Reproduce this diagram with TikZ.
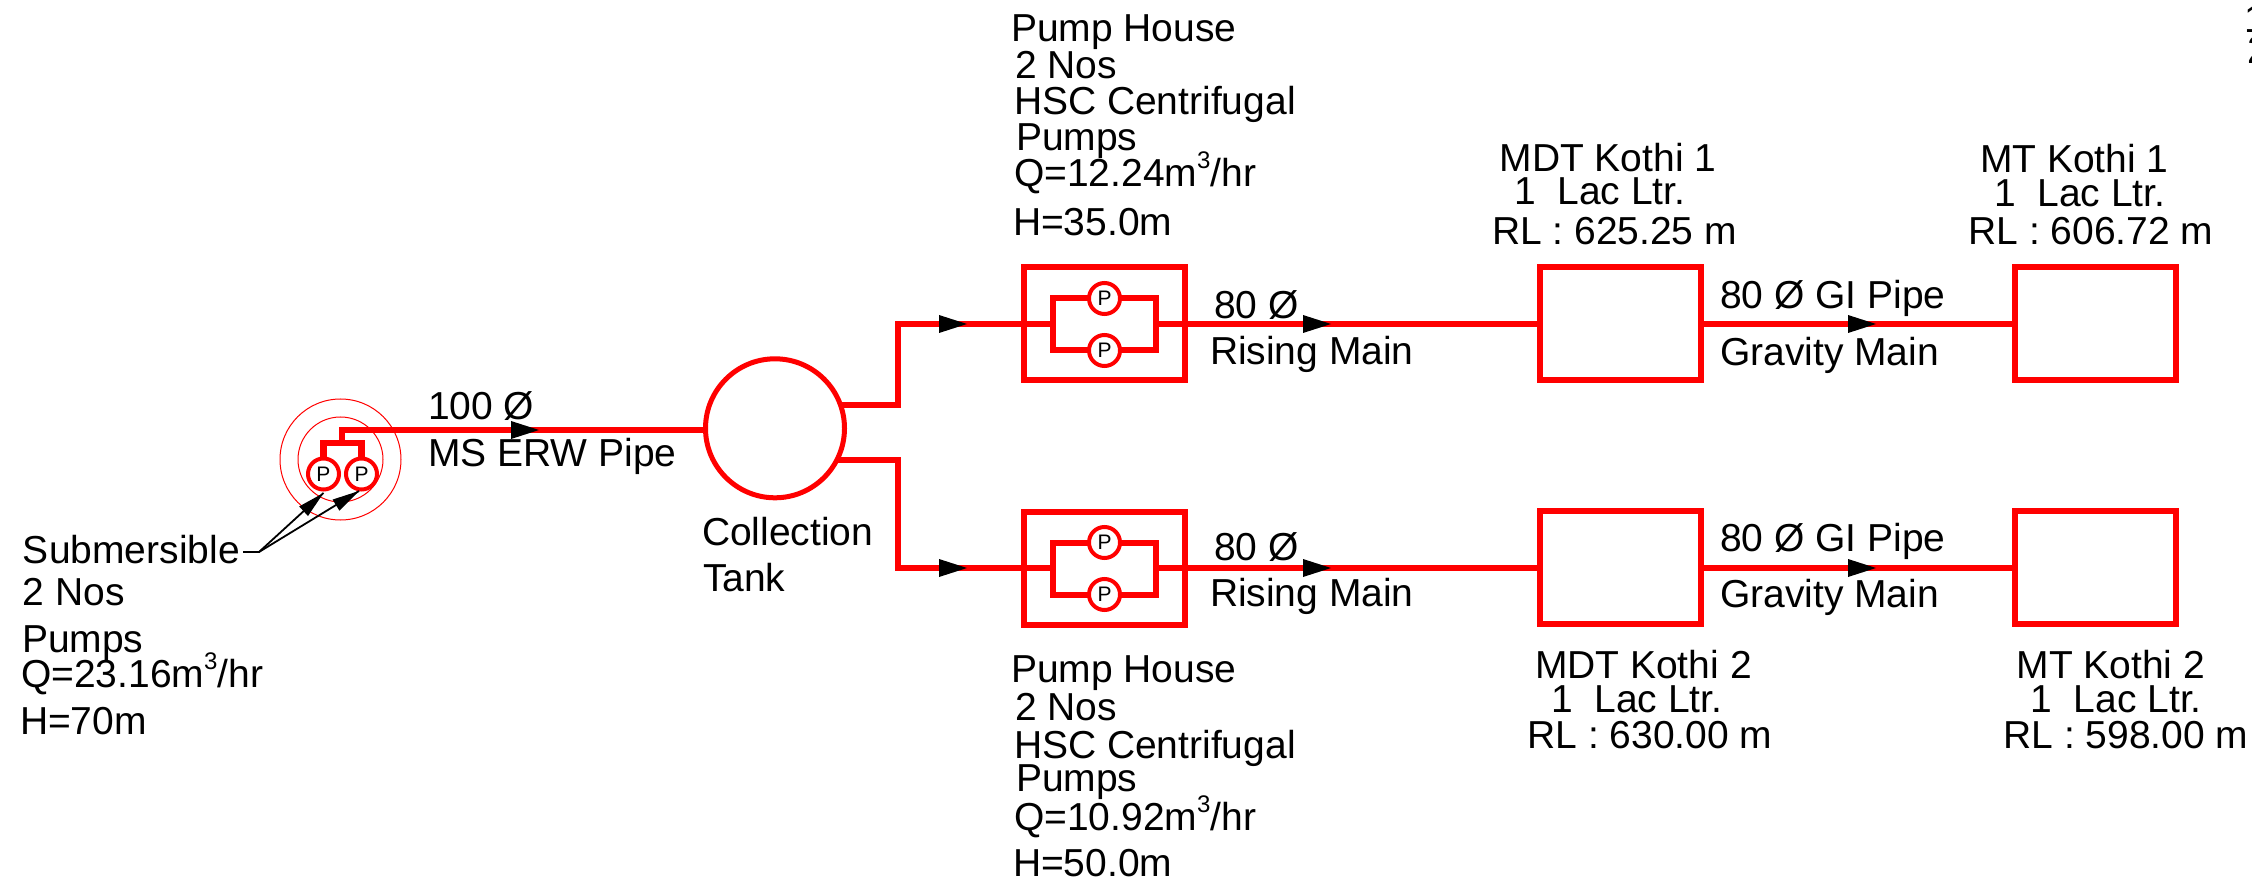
\documentclass[tikz,border=0pt]{standalone}
\usepackage{fontspec}
\setmainfont{Liberation Sans}
\usetikzlibrary{calc}
\definecolor{pipered}{RGB}{255,0,0}
\newcommand{\cubed}{\raisebox{18pt}{\fontsize{24}{24}\selectfont 3}}
\tikzset{
  lab/.style={anchor=base west,inner sep=0pt,outer sep=0pt,font=\fontsize{39}{40}\selectfont,text=black},
  pipe/.style={draw=pipered,line width=6.3pt,line join=miter},
  thinpipe/.style={draw=pipered,line width=6pt,line join=miter},
  boxnode/.style={draw=pipered,line width=6pt,rectangle,inner sep=0pt,outer sep=0pt,minimum width=161pt,minimum height=113pt},
  pumpnode/.style={draw=pipered,line width=4pt,fill=white,circle,inner sep=0pt,outer sep=0pt,minimum size=31pt,text=black,font=\fontsize{21}{22}\selectfont},
  ring/.style={draw=pipered,line width=1pt,circle,inner sep=0pt,outer sep=0pt},
  tanknode/.style={draw=pipered,line width=5pt,circle,inner sep=0pt,outer sep=0pt,minimum size=139pt},
  leader/.style={draw=black,line width=1.8pt},
}
\newcommand{\flowhead}[2]{\fill[black] (#1,#2-9) -- (#1+28,#2) -- (#1,#2+9) -- cycle;}
\newcommand{\leaderhead}[3]{\fill[black,shift={(#1,#2)},rotate=#3] (0,0) -- (-27,-6.5) -- (-27,6.5) -- cycle;}
\begin{document}
\begin{tikzpicture}[x=1pt,y=-1pt]
\useasboundingbox (0,0) rectangle (2252,882);
\fill[white] (0,0) rectangle (2252,882);

% submersible well
\node[ring,minimum size=121pt] (wellouter) at (340.5,459.5) {};
\node[ring,minimum size=85pt] (wellinner) at (340.5,459.5) {};
\coordinate (wtop) at (342,430);
\coordinate (wjoin) at (342,443);
\coordinate (wl) at (323.5,443);
\coordinate (wr) at (361.5,443);
\node[pumpnode] (sp1) at (323.5,474) {P};
\node[pumpnode] (sp2) at (361.5,474) {P};

% tank
\node[tanknode] (tank) at (775,428.3) {};
\coordinate (jt) at (898,405);
\coordinate (jb) at (898,460);
\coordinate (tu) at (842,405);
\coordinate (tl) at (836,460);

% pump houses
\node[boxnode] (ph1) at (1104.7,324) {};
\node[boxnode] (ph2) at (1104.7,568) {};
\foreach \n/\y in {a/324,b/568}{
  \coordinate (\n l) at (1053,\y);
  \coordinate (\n r) at (1156,\y);
  \coordinate (\n lt) at (1053,\y-25.5);
  \coordinate (\n lb) at (1053,\y+26.5);
  \coordinate (\n rt) at (1156,\y-25.5);
  \coordinate (\n rb) at (1156,\y+26.5);
  \node[pumpnode] (\n pt) at (1104.5,\y-25.5) {P};
  \node[pumpnode] (\n pb) at (1104.5,\y+26.5) {P};
  \coordinate (\n in) at (898,\y);
  \draw[thinpipe] (\n pt) -- (\n lt) -- (\n lb) -- (\n pb);
  \draw[thinpipe] (\n pt) -- (\n rt) -- (\n rb) -- (\n pb);
}

% elevated tanks
\node[boxnode] (mdt1) at (1620.5,323.5) {};
\node[boxnode] (mt1) at (2095,323.5) {};
\node[boxnode] (mdt2) at (1620.5,567.5) {};
\node[boxnode] (mt2) at (2095,567.5) {};

% pipes
\draw[pipe] (wl |- sp1.north) -- (wl) -- (wr) -- (wr |- sp2.north);
\draw[pipe] (wjoin) -- (wtop) -- (tank.west |- wtop);
\draw[pipe] (tu) -- (jt) -- (ain) -- (al);
\draw[pipe] (tl) -- (jb) -- (bin) -- (bl);
\draw[pipe] (ar) -- (mdt1.west |- ar);
\draw[pipe] (br) -- (mdt2.west |- br);
\draw[pipe] (mdt1.east |- ar) -- (mt1.west |- ar);
\draw[pipe] (mdt2.east |- br) -- (mt2.west |- br);

% flow heads
\flowhead{511}{430}
\flowhead{939}{324}
\flowhead{939}{568}
\flowhead{1303}{324}
\flowhead{1303}{568}
\flowhead{1848}{324}
\flowhead{1848}{568}

% leaders
\coordinate (lelbow) at (259,552);
\coordinate (lt1) at (323.5,493);
\coordinate (lt2) at (359,491);
\node[lab] (sub) at (23,563) {Submersible};
\draw[leader] (243,552) -- (lelbow) -- (lt1);
\draw[leader] (lelbow) -- (lt2);
\leaderhead{323.5}{493}{42.5}
\leaderhead{359}{491}{31.5}

% labels
\node[lab] (t1) at (23,605) {2 Nos};
\node[lab] (t2) at (22,652) {Pumps};
\node[lab] (t3) at (21,687.7) {Q=23.16m\cubed/hr};
\node[lab] (t4) at (20,734.3) {H=70m};
\node[lab] (t5) at (428,420) {100 Ø};
\node[lab] (t6) at (428,467) {MS ERW Pipe};
\node[lab] (t7) at (702,545) {Collection};
\node[lab] (t8) at (703,591.7) {Tank};

\node[lab] (a1) at (1011,41.5) {Pump House};
\node[lab] (a2) at (1015,79) {2 Nos};
\node[lab] (a3) at (1014,115) {HSC Centrifugal};
\node[lab] (a4) at (1016,150.7) {Pumps};
\node[lab] (a5) at (1014,187) {Q=12.24m\cubed/hr};
\node[lab] (a6) at (1013,236) {H=35.0m};

\node[lab] (b1) at (1011,682.5) {Pump House};
\node[lab] (b2) at (1015,720) {2 Nos};
\node[lab] (b3) at (1014,758) {HSC Centrifugal};
\node[lab] (b4) at (1016,791.7) {Pumps};
\node[lab] (b5) at (1014,830) {Q=10.92m\cubed/hr};
\node[lab] (b6) at (1013,876) {H=50.0m};

\node[lab] (c1) at (1214,319) {80 Ø};
\node[lab] (c2) at (1210,365) {Rising Main};
\node[lab] (c3) at (1214,560) {80 Ø};
\node[lab] (c4) at (1210,606) {Rising Main};

\node[lab] (d1) at (1720,309) {80 Ø GI Pipe};
\node[lab] (d2) at (1720,366) {Gravity Main};
\node[lab] (d3) at (1720,551) {80 Ø GI Pipe};
\node[lab] (d4) at (1720,607) {Gravity Main};

\node[lab] (e1) at (1499.5,171.7) {MDT Kothi 1};
\node[lab] (e2) at (1514,205) {1\ \ Lac Ltr.};
\node[lab] (e3) at (1492,245) {RL : 625.25 m};
\node[lab] (f1) at (1980,173) {MT Kothi 1};
\node[lab] (f2) at (1994,206.7) {1\ \ Lac Ltr.};
\node[lab] (f3) at (1968.5,245) {RL : 606.72 m};

\node[lab] (g1) at (1535,678) {MDT Kothi 2};
\node[lab] (g2) at (1551,712) {1\ \ Lac Ltr.};
\node[lab] (g3) at (1527.5,748) {RL : 630.00 m};
\node[lab] (h1) at (2016.5,678) {MT Kothi 2};
\node[lab] (h2) at (2030.5,712) {1\ \ Lac Ltr.};
\node[lab] (h3) at (2003.5,748) {RL : 598.00 m};

% cut-off texts at the page edge
\begin{scope}
\clip (0,0) rectangle (2252,882);
\node[lab] (z1) at (2244,33) {1};
\node[lab] (z2) at (2247,64) {2};
\end{scope}
\end{tikzpicture}
\end{document}
